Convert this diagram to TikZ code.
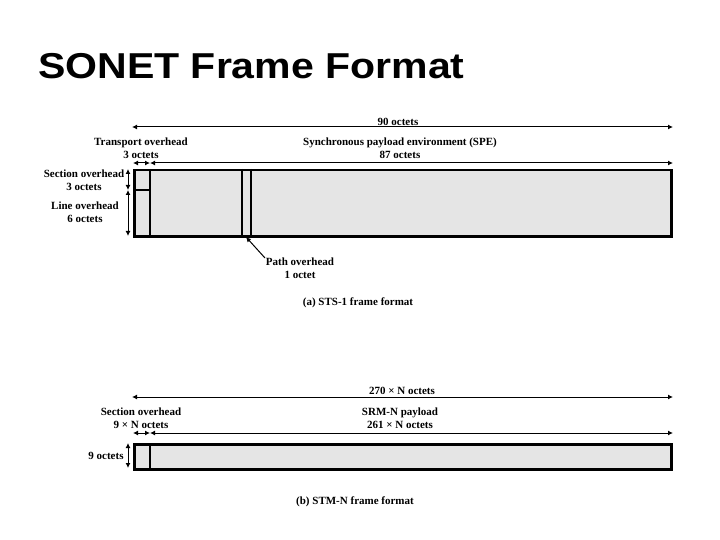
\documentclass[tikz,border=0pt]{standalone}
\usepackage{fontspec}
\setmainfont{Liberation Serif}
\newfontfamily\titlefont{Liberation Sans}
\usetikzlibrary{arrows.meta}
\begin{document}
\begin{tikzpicture}[x=1pt,y=-1pt,
  lbl/.style={font=\bfseries\fontsize{11}{12.5}\selectfont, align=center, inner sep=0pt},
  dim/.style={line width=1pt, -{Latex[length=5pt,width=5pt]}},
  ddim/.style={line width=1pt, {Latex[length=5pt,width=5pt]}-{Latex[length=5pt,width=5pt]}},
  frame/.style={draw, line width=2.5pt, fill=black!10},
  sep/.style={line width=2pt}]
\useasboundingbox (0,0) rectangle (720,540);
\node[anchor=base west, inner sep=0pt] (title) at (38,79)
  {\titlefont\bfseries\fontsize{36}{40}\selectfont\scalebox{1.14}[1]{SONET Frame Format}};

% ---------- (a) STS-1 ----------
\coordinate (a90l) at (132,127);
\coordinate (a90r) at (673,127);
\draw[ddim] (a90l) -- (a90r);
\node[lbl] (l90) at (398,122) {90 octets};

\node[lbl] (ltoh) at (141,148) {Transport overhead\\3 octets};
\node[lbl] (lspe) at (400,148) {Synchronous payload environment (SPE)\\87 octets};

\coordinate (atl) at (133,163);
\coordinate (atm) at (150,163);
\coordinate (atr) at (673,163);
\draw[ddim] (atl) -- (atm);
\draw[ddim] (atm) -- (atr);

\node[frame, minimum width=537pt, minimum height=66pt, inner sep=0pt, anchor=north west] (fa) at (133,169) {};
\coordinate (asec) at (133,190);
\coordinate (atoh) at (150,190);
\draw[sep] (150,169) -- (150,236);
\draw[sep] (asec) -- (atoh);
\draw[sep] (242,169) -- (242,236);
\draw[sep] (251,169) -- (251,236);

\coordinate (avt) at (128,169);
\coordinate (avm) at (128,190);
\coordinate (avb) at (128,236);
\draw[ddim] (avt) -- (avm);
\draw[ddim] (avm) -- (avb);
\node[lbl] (lsec) at (84,180) {Section overhead\\3 octets};
\node[lbl] (lline) at (85,212) {Line overhead\\6 octets};

\node[lbl] (lpoh) at (300,268) {Path overhead\\1 octet};
\coordinate (apoh) at (246,237);
\coordinate (apoht) at (265,258);
\draw[dim] (apoht) -- (apoh);

\node[lbl] (capa) at (358,303) {(a) STS-1 frame format};

% ---------- (b) STM-N ----------
\coordinate (b270l) at (132,397);
\coordinate (b270r) at (673,397);
\draw[ddim] (b270l) -- (b270r);
\node[lbl] (l270) at (402,391) {270 × N octets};

\node[lbl] (lsoh) at (141,418) {Section overhead\\9 × N octets};
\node[lbl] (lsrm) at (400,418) {SRM-N payload\\261 × N octets};

\coordinate (btl) at (133,433);
\coordinate (btm) at (150,433);
\coordinate (btr) at (673,433);
\draw[ddim] (btl) -- (btm);
\draw[ddim] (btm) -- (btr);

\node[frame, minimum width=537pt, minimum height=25pt, inner sep=0pt, anchor=north west] (fb) at (133,443) {};
\draw[sep] (150,443) -- (150,468);

\coordinate (bvt) at (128,443);
\coordinate (bvb) at (128,468);
\draw[ddim] (bvt) -- (bvb);
\node[lbl] (l9) at (106,456) {9 octets};

\node[lbl] (capb) at (355,502) {(b) STM-N frame format};
\end{tikzpicture}
\end{document}
